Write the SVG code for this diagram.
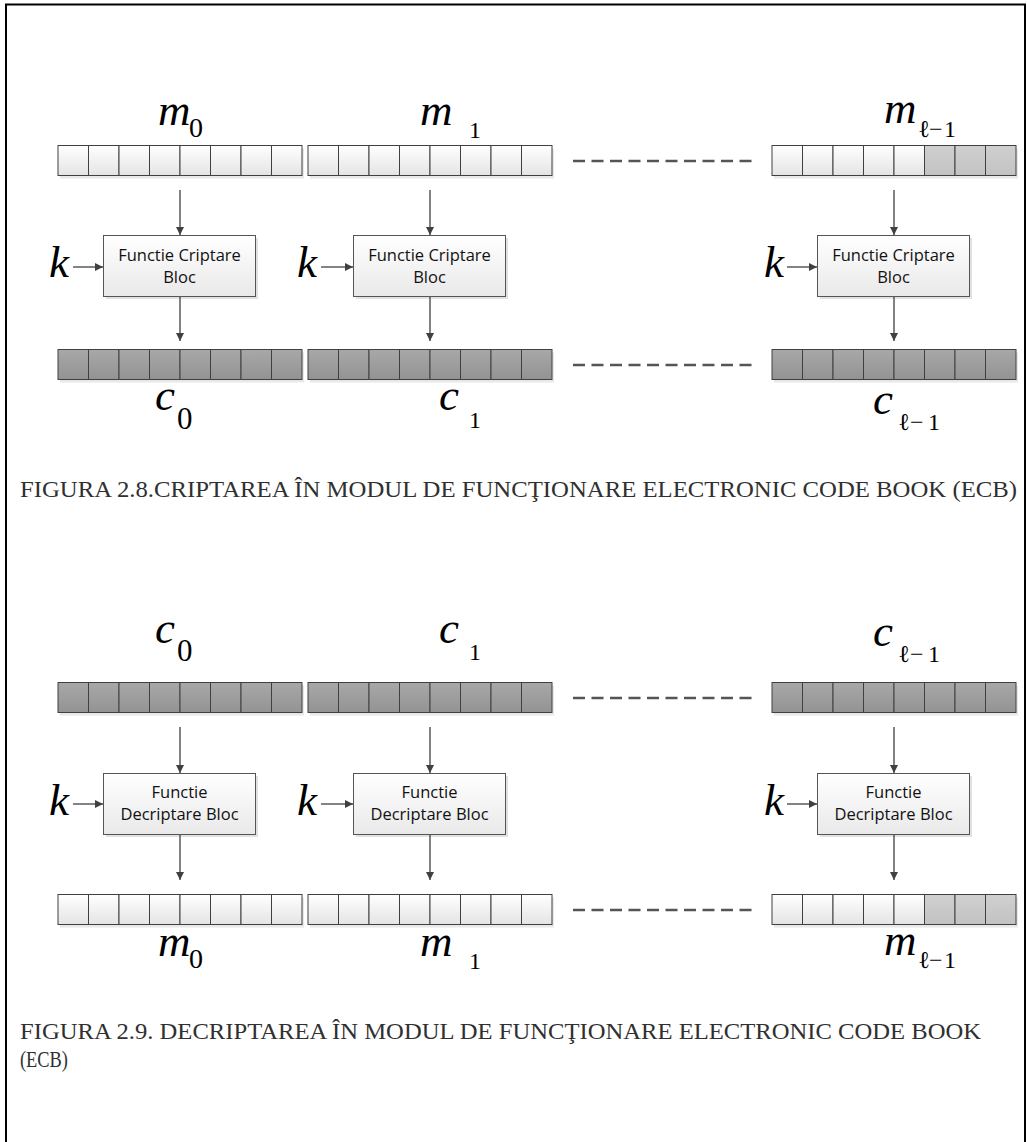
<svg xmlns="http://www.w3.org/2000/svg" xmlns:xlink="http://www.w3.org/1999/xlink" width="1027" height="1142" viewBox="0 0 1027 1142">
<style>
.cell{stroke:#404040;stroke-width:1}
.lt{fill:url(#gLight)}
.dk{fill:url(#gDark)}
.md{fill:url(#gMid)}
.shadow{fill:#d8d8d8;opacity:0.6}
.box{fill:url(#gBox);stroke:#555;stroke-width:1}
.boxsh{fill:#c8c8c8;opacity:0.55}
.btxt{font-family:"Open Sans","Noto Sans","Liberation Sans",sans-serif;font-size:16.5px;fill:#111;text-anchor:middle}
.var{font-family:"Liberation Serif","DejaVu Serif",serif;font-style:italic;font-size:45px;fill:#000}
.sub{font-family:"Liberation Serif","DejaVu Serif",serif;font-size:28px;fill:#000}
.subs{font-family:"Liberation Serif","DejaVu Serif",serif;font-size:24px;fill:#000}
.conn{stroke:#404040;stroke-width:1.3;fill:none}
.dash{stroke:#555;stroke-width:2.5;stroke-dasharray:12 6.5;fill:none}
.cap{font-family:"Liberation Serif","DejaVu Serif",serif;font-size:23px;fill:#303030}
</style>
<defs>
<linearGradient id="gLight" x1="0" y1="0" x2="0" y2="1"><stop offset="0" stop-color="#ffffff"/><stop offset="1" stop-color="#e4e4e4"/></linearGradient>
<linearGradient id="gDark" x1="0" y1="0" x2="0" y2="1"><stop offset="0" stop-color="#a8a8a8"/><stop offset="1" stop-color="#939393"/></linearGradient>
<linearGradient id="gMid" x1="0" y1="0" x2="0" y2="1"><stop offset="0" stop-color="#d0d0d0"/><stop offset="1" stop-color="#c2c2c2"/></linearGradient>
<linearGradient id="gBox" x1="0" y1="0" x2="0" y2="1"><stop offset="0" stop-color="#ffffff"/><stop offset="1" stop-color="#e9e9e9"/></linearGradient>
<marker id="ah" viewBox="0 0 10 10" refX="10" refY="5" markerWidth="8" markerHeight="8" markerUnits="userSpaceOnUse" orient="auto">
<path d="M0,0 L10,5 L0,10 z" fill="#404040"/>
</marker>
<g id="rowL">
<rect class="shadow" x="2" y="3" width="244" height="30"/>
<rect class="cell lt" x="0" y="0" width="30.5" height="30"/><rect class="cell lt" x="30.5" y="0" width="30.5" height="30"/><rect class="cell lt" x="61" y="0" width="30.5" height="30"/><rect class="cell lt" x="91.5" y="0" width="30.5" height="30"/><rect class="cell lt" x="122" y="0" width="30.5" height="30"/><rect class="cell lt" x="152.5" y="0" width="30.5" height="30"/><rect class="cell lt" x="183" y="0" width="30.5" height="30"/><rect class="cell lt" x="213.5" y="0" width="30.5" height="30"/>
</g>
<g id="rowD">
<rect class="shadow" x="2" y="3" width="244" height="30"/>
<rect class="cell dk" x="0" y="0" width="30.5" height="30"/><rect class="cell dk" x="30.5" y="0" width="30.5" height="30"/><rect class="cell dk" x="61" y="0" width="30.5" height="30"/><rect class="cell dk" x="91.5" y="0" width="30.5" height="30"/><rect class="cell dk" x="122" y="0" width="30.5" height="30"/><rect class="cell dk" x="152.5" y="0" width="30.5" height="30"/><rect class="cell dk" x="183" y="0" width="30.5" height="30"/><rect class="cell dk" x="213.5" y="0" width="30.5" height="30"/>
</g>
<g id="rowM">
<rect class="shadow" x="2" y="3" width="244" height="30"/>
<rect class="cell lt" x="0" y="0" width="30.5" height="30"/><rect class="cell lt" x="30.5" y="0" width="30.5" height="30"/><rect class="cell lt" x="61" y="0" width="30.5" height="30"/><rect class="cell lt" x="91.5" y="0" width="30.5" height="30"/><rect class="cell lt" x="122" y="0" width="30.5" height="30"/><rect class="cell md" x="152.5" y="0" width="30.5" height="30"/><rect class="cell md" x="183" y="0" width="30.5" height="30"/><rect class="cell md" x="213.5" y="0" width="30.5" height="30"/>
</g>
</defs>
<rect x="0" y="0" width="1027" height="1142" fill="#ffffff"/>
<rect x="6" y="4.5" width="1019" height="1160" fill="none" stroke="#000" stroke-width="2"/>

<!-- Section 1: encryption -->
<g id="m0-top"><use xlink:href="#rowL" x="58" y="145.5"/><text class="var" x="158" y="125">m</text><text class="sub" x="189" y="137">0</text></g>
<g id="m1-top"><use xlink:href="#rowL" x="308" y="145.5"/><text class="var" x="420" y="125">m</text><text class="subs" x="469" y="138">1</text></g>
<g id="ml-top"><use xlink:href="#rowM" x="772" y="145.5"/><text class="var" x="884" y="123">m</text><text class="subs" y="137"><tspan x="918">ℓ</tspan><tspan x="929">−</tspan><tspan x="944">1</tspan></text></g>

<g id="enc1"><rect class="boxsh" x="106" y="238" width="152" height="61"/><rect class="box" x="103.5" y="235.5" width="152" height="61"/><text class="btxt" x="179.5" y="261">Functie Criptare</text><text class="btxt" x="179.5" y="283">Bloc</text></g>
<g id="enc2"><rect class="boxsh" x="356" y="238" width="152" height="61"/><rect class="box" x="353.5" y="235.5" width="152" height="61"/><text class="btxt" x="429.5" y="261">Functie Criptare</text><text class="btxt" x="429.5" y="283">Bloc</text></g>
<g id="enc3"><rect class="boxsh" x="820" y="238" width="152" height="61"/><rect class="box" x="817.5" y="235.5" width="152" height="61"/><text class="btxt" x="893.5" y="261">Functie Criptare</text><text class="btxt" x="893.5" y="283">Bloc</text></g>

<g id="k-enc1"><text class="var" x="49" y="277">k</text></g>
<g id="k-enc2"><text class="var" x="297" y="277">k</text></g>
<g id="k-enc3"><text class="var" x="764" y="277">k</text></g>

<g id="c0-top"><use xlink:href="#rowD" x="58" y="349.5"/><text class="var" x="155" y="410">c</text><text class="sub" x="177" y="429" style="font-size:31px">0</text></g>
<g id="c1-top"><use xlink:href="#rowD" x="308" y="349.5"/><text class="var" x="439" y="410">c</text><text class="subs" x="469" y="428">1</text></g>
<g id="cl-top"><use xlink:href="#rowD" x="772" y="349.5"/><text class="var" x="873" y="414">c</text><text class="subs" y="430"><tspan x="898">ℓ</tspan><tspan x="910">−</tspan><tspan x="928">1</tspan></text></g>

<g id="connectors-1">
<line class="conn" x1="180" y1="190" x2="180" y2="235" marker-end="url(#ah)"/>
<line class="conn" x1="430" y1="190" x2="430" y2="235" marker-end="url(#ah)"/>
<line class="conn" x1="894" y1="190" x2="894" y2="235" marker-end="url(#ah)"/>
<line class="conn" x1="180" y1="297" x2="180" y2="341" marker-end="url(#ah)"/>
<line class="conn" x1="430" y1="297" x2="430" y2="341" marker-end="url(#ah)"/>
<line class="conn" x1="894" y1="297" x2="894" y2="341" marker-end="url(#ah)"/>
<line class="conn" x1="73" y1="267" x2="103" y2="267" marker-end="url(#ah)"/>
<line class="conn" x1="321" y1="267" x2="353" y2="267" marker-end="url(#ah)"/>
<line class="conn" x1="787" y1="267" x2="817" y2="267" marker-end="url(#ah)"/>
<line class="dash" x1="573" y1="161" x2="753" y2="161"/>
<line class="dash" x1="573" y1="365" x2="753" y2="365"/>
</g>

<text class="cap" x="20" y="497" textLength="997" lengthAdjust="spacingAndGlyphs">FIGURA 2.8.CRIPTAREA ÎN MODUL DE FUNCŢIONARE ELECTRONIC CODE BOOK (ECB)</text>

<!-- Section 2: decryption -->
<g id="c0-bot"><use xlink:href="#rowD" x="58" y="682.5"/><text class="var" x="155" y="643">c</text><text class="sub" x="177" y="661" style="font-size:31px">0</text></g>
<g id="c1-bot"><use xlink:href="#rowD" x="308" y="682.5"/><text class="var" x="439" y="643">c</text><text class="subs" x="469" y="660">1</text></g>
<g id="cl-bot"><use xlink:href="#rowD" x="772" y="682.5"/><text class="var" x="873" y="646">c</text><text class="subs" y="662"><tspan x="898">ℓ</tspan><tspan x="910">−</tspan><tspan x="928">1</tspan></text></g>

<g id="dec1"><rect class="boxsh" x="106" y="776" width="152" height="61"/><rect class="box" x="103.5" y="773.5" width="152" height="61"/><text class="btxt" x="179.5" y="798">Functie</text><text class="btxt" x="179.5" y="820">Decriptare Bloc</text></g>
<g id="dec2"><rect class="boxsh" x="356" y="776" width="152" height="61"/><rect class="box" x="353.5" y="773.5" width="152" height="61"/><text class="btxt" x="429.5" y="798">Functie</text><text class="btxt" x="429.5" y="820">Decriptare Bloc</text></g>
<g id="dec3"><rect class="boxsh" x="820" y="776" width="152" height="61"/><rect class="box" x="817.5" y="773.5" width="152" height="61"/><text class="btxt" x="893.5" y="798">Functie</text><text class="btxt" x="893.5" y="820">Decriptare Bloc</text></g>

<g id="k-dec1"><text class="var" x="49" y="815">k</text></g>
<g id="k-dec2"><text class="var" x="297" y="815">k</text></g>
<g id="k-dec3"><text class="var" x="764" y="815">k</text></g>

<g id="m0-bot"><use xlink:href="#rowL" x="58" y="894.5"/><text class="var" x="158" y="956">m</text><text class="sub" x="189" y="968">0</text></g>
<g id="m1-bot"><use xlink:href="#rowL" x="308" y="894.5"/><text class="var" x="420" y="956">m</text><text class="subs" x="469" y="969">1</text></g>
<g id="ml-bot"><use xlink:href="#rowM" x="772" y="894.5"/><text class="var" x="884" y="955">m</text><text class="subs" y="968"><tspan x="918">ℓ</tspan><tspan x="929">−</tspan><tspan x="944">1</tspan></text></g>

<g id="connectors-2">
<line class="conn" x1="180" y1="727" x2="180" y2="773" marker-end="url(#ah)"/>
<line class="conn" x1="430" y1="727" x2="430" y2="773" marker-end="url(#ah)"/>
<line class="conn" x1="894" y1="727" x2="894" y2="773" marker-end="url(#ah)"/>
<line class="conn" x1="180" y1="835" x2="180" y2="880" marker-end="url(#ah)"/>
<line class="conn" x1="430" y1="835" x2="430" y2="880" marker-end="url(#ah)"/>
<line class="conn" x1="894" y1="835" x2="894" y2="880" marker-end="url(#ah)"/>
<line class="conn" x1="73" y1="804" x2="103" y2="804" marker-end="url(#ah)"/>
<line class="conn" x1="321" y1="804" x2="353" y2="804" marker-end="url(#ah)"/>
<line class="conn" x1="787" y1="804" x2="817" y2="804" marker-end="url(#ah)"/>
<line class="dash" x1="573" y1="698" x2="753" y2="698"/>
<line class="dash" x1="573" y1="910" x2="753" y2="910"/>
</g>

<text class="cap" x="20" y="1039" textLength="961" lengthAdjust="spacingAndGlyphs">FIGURA 2.9. DECRIPTAREA ÎN MODUL DE FUNCŢIONARE ELECTRONIC CODE BOOK</text>
<text class="cap" x="20" y="1067" textLength="48" lengthAdjust="spacingAndGlyphs">(ECB)</text>
</svg>
